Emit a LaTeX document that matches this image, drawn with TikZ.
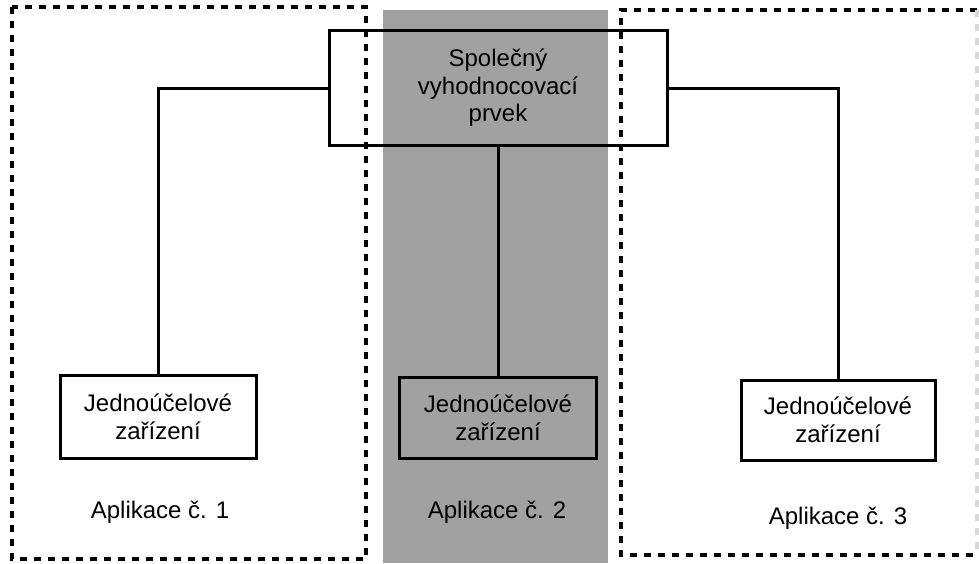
\documentclass[tikz,border=0pt]{standalone}
\usepackage{fontspec}
\setmainfont{Liberation Sans}
\begin{document}
\begin{tikzpicture}[x=1pt,y=-1pt,
  every node/.style={font=\fontsize{24}{27.5}\selectfont, align=center, inner sep=0pt},
  boxnode/.style={draw=black, line width=3pt, rectangle},
  conn/.style={draw=black, line width=3pt},
  appframe/.style={draw=black, line width=3.2pt, dash pattern=on 7pt off 7pt},
  panel/.style={fill=black!37, draw=none}]
\useasboundingbox (0,0) rectangle (979,563);
% grey middle panel
\fill[panel] (383,10) rectangle (608,563);
% dashed application frames
\draw[appframe] (12,7) rectangle (366,559);
\draw[appframe] (977,10) -- (621,10) -- (621,555) -- (977,555);
\draw[draw=black!15, line width=3.2pt, dash pattern=on 7pt off 7pt] (977,10) -- (977,555);
% nodes
\node[boxnode, minimum width=338pt, minimum height=115pt] (top) at (498,88) {Společný\\vyhodnocovací\\prvek};
\node[boxnode, minimum width=196pt, minimum height=83pt] (left) at (158,417) {Jednoúčelové\\zařízení};
\node[boxnode, minimum width=197pt, minimum height=81pt] (mid) at (498,418) {Jednoúčelové\\zařízení};
\node[boxnode, minimum width=194pt, minimum height=80pt] (right) at (838,420) {Jednoúčelové\\zařízení};
% labels
\node (l1) at (160,512) {Aplikace č. 1};
\node (l2) at (497,512) {Aplikace č. 2};
\node (l3) at (838,518) {Aplikace č. 3};
% connectors
\draw[conn] (top.west) -| (left.north);
\draw[conn] (top.south) -- (mid.north);
\draw[conn] (top.east) -| (right.north);
\end{tikzpicture}
\end{document}
